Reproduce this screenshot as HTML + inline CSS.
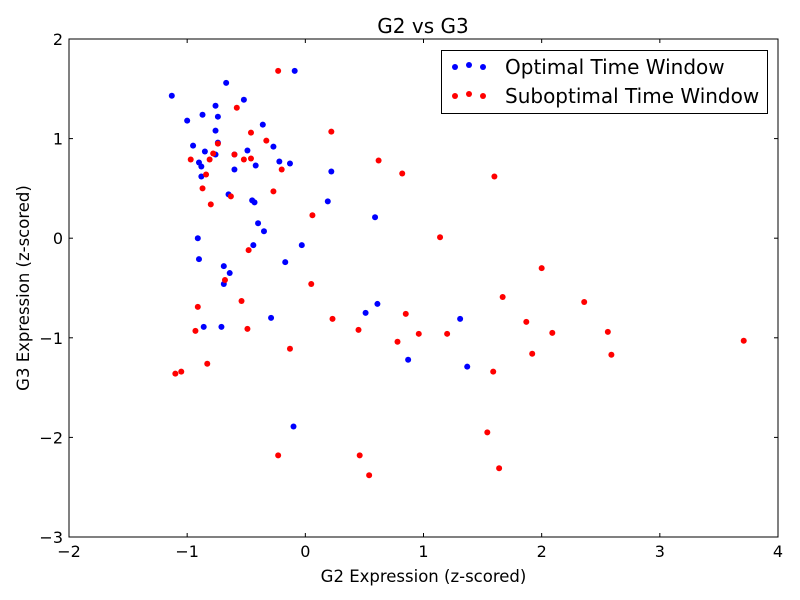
<!DOCTYPE html>
<html><head><meta charset="utf-8"><style>body{margin:0;background:#fff}svg{display:block;font-family:"DejaVu Sans","Liberation Sans",sans-serif}</style></head>
<body>
<svg id="chart" width="800" height="600" xmlns="http://www.w3.org/2000/svg"></svg>
<script>
const xTicks=[-2,-1,0,1,2,3,4];
const yTicks=[-3,-2,-1,0,1,2];
const optimalX=[-0.09,-0.67,-1.13,-0.52,-0.76,-0.87,-0.74,-1.00,-0.36,-0.76,-0.74,-0.95,-0.27,-0.49,-0.85,-0.76,-0.60,-0.90,-0.88,-0.22,-0.13,-0.42,-0.60,-0.88,0.22,-0.65,-0.45,-0.43,0.19,-0.40,-0.35,-0.91,-0.44,-0.03,0.59,-0.90,-0.69,-0.64,-0.69,-0.17,-0.29,-0.86,-0.71,0.61,0.51,0.87,1.31,1.37,-0.10];
const optimalY=[1.68,1.56,1.43,1.39,1.33,1.24,1.22,1.18,1.14,1.08,0.96,0.93,0.92,0.88,0.87,0.84,0.84,0.76,0.72,0.77,0.75,0.73,0.69,0.62,0.67,0.44,0.38,0.36,0.37,0.15,0.07,0.00,-0.07,-0.07,0.21,-0.21,-0.28,-0.35,-0.46,-0.24,-0.80,-0.89,-0.89,-0.66,-0.75,-1.22,-0.81,-1.29,-1.89];
const subX=[-0.23,-0.58,-0.46,-0.33,0.22,-0.74,-0.78,-0.97,-0.81,-0.60,-0.52,-0.46,-0.20,-0.84,-0.87,-0.63,-0.27,-0.80,0.06,-0.48,-0.68,0.05,-0.54,-0.91,0.23,-0.93,-0.49,-0.13,-0.83,-1.05,-1.10,0.62,0.82,1.14,1.60,2.00,1.67,1.87,2.36,2.56,2.59,2.09,1.92,1.20,0.96,0.85,0.78,0.45,1.59,1.54,1.64,0.54,0.46,-0.23,3.71];
const subY=[1.68,1.31,1.06,0.98,1.07,0.95,0.85,0.79,0.79,0.84,0.79,0.80,0.69,0.64,0.50,0.42,0.47,0.34,0.23,-0.12,-0.42,-0.46,-0.63,-0.69,-0.81,-0.93,-0.91,-1.11,-1.26,-1.34,-1.36,0.78,0.65,0.01,0.62,-0.30,-0.59,-0.84,-0.64,-0.94,-1.17,-0.95,-1.16,-0.96,-0.96,-0.76,-1.04,-0.92,-1.34,-1.95,-2.31,-2.38,-2.18,-2.18,-1.03];
const L=69,R=778,T=39,B=537;
const sx=v=>L+(v-(-2))/(6)*(R-L);
const sy=v=>B-(v-(-3))/(5)*(B-T);
const svg=document.getElementById('chart');
const NS='http://www.w3.org/2000/svg';
function mk(tag,a,p){const e=document.createElementNS(NS,tag);for(const k in a)e.setAttribute(k,a[k]);(p||svg).appendChild(e);return e;}
const t=mk('text',{x:423,y:33,'text-anchor':'middle','font-size':20});t.textContent='G2 vs G3';


const pts=mk('g',{});


optimalX.forEach((x,i)=>{const c=mk('circle',{cx:sx(x),cy:sy(optimalY[i]),r:3,fill:'#0000ff'},pts);

});
subX.forEach((x,i)=>{const c=mk('circle',{cx:sx(x),cy:sy(subY[i]),r:3,fill:'#ff0000'},pts);

});
const frame=mk('rect',{x:L,y:T,width:R-L,height:B-T,fill:'none',stroke:'#000','stroke-width':1});


xTicks.forEach(v=>{const x=sx(v);
mk('line',{x1:x,x2:x,y1:B,y2:B-4,stroke:'#000'});mk('line',{x1:x,x2:x,y1:T,y2:T+4,stroke:'#000'});
const l=mk('text',{x:x,y:B+20,'text-anchor':'middle','font-size':16});l.textContent=v<0?'\u2212'+(-v):v;

});
yTicks.forEach(v=>{const y=sy(v);
mk('line',{x1:L,x2:L+4,y1:y,y2:y,stroke:'#000'});mk('line',{x1:R,x2:R-4,y1:y,y2:y,stroke:'#000'});
const l=mk('text',{x:L-6,y:y+6,'text-anchor':'end','font-size':16});l.textContent=v<0?'\u2212'+(-v):v;

});
const xt=mk('text',{x:(L+R)/2,y:582,'text-anchor':'middle','font-size':16.5});xt.textContent='G2 Expression (z-scored)';


const yt=mk('text',{x:0,y:0,'text-anchor':'middle','font-size':16.5,transform:'translate(29,288) rotate(-90)'});yt.textContent='G3 Expression (z-scored)';


const lg=mk('g',{});


mk('rect',{x:441.5,y:50.5,width:326,height:63,fill:'#fff',stroke:'#000'},lg);
[['Optimal Time Window','#0000ff',67],['Suboptimal Time Window','#ff0000',96]].forEach(([n,c,y],i)=>{
const e=mk('g',{},lg);


[455,469,483].forEach((x,j)=>mk('circle',{cx:x,cy:y+(j==1?-2:0),r:3,fill:c},e));
const tx=mk('text',{x:505,y:y+7,'font-size':20},e);tx.textContent=n;});
</script>
</body></html>
